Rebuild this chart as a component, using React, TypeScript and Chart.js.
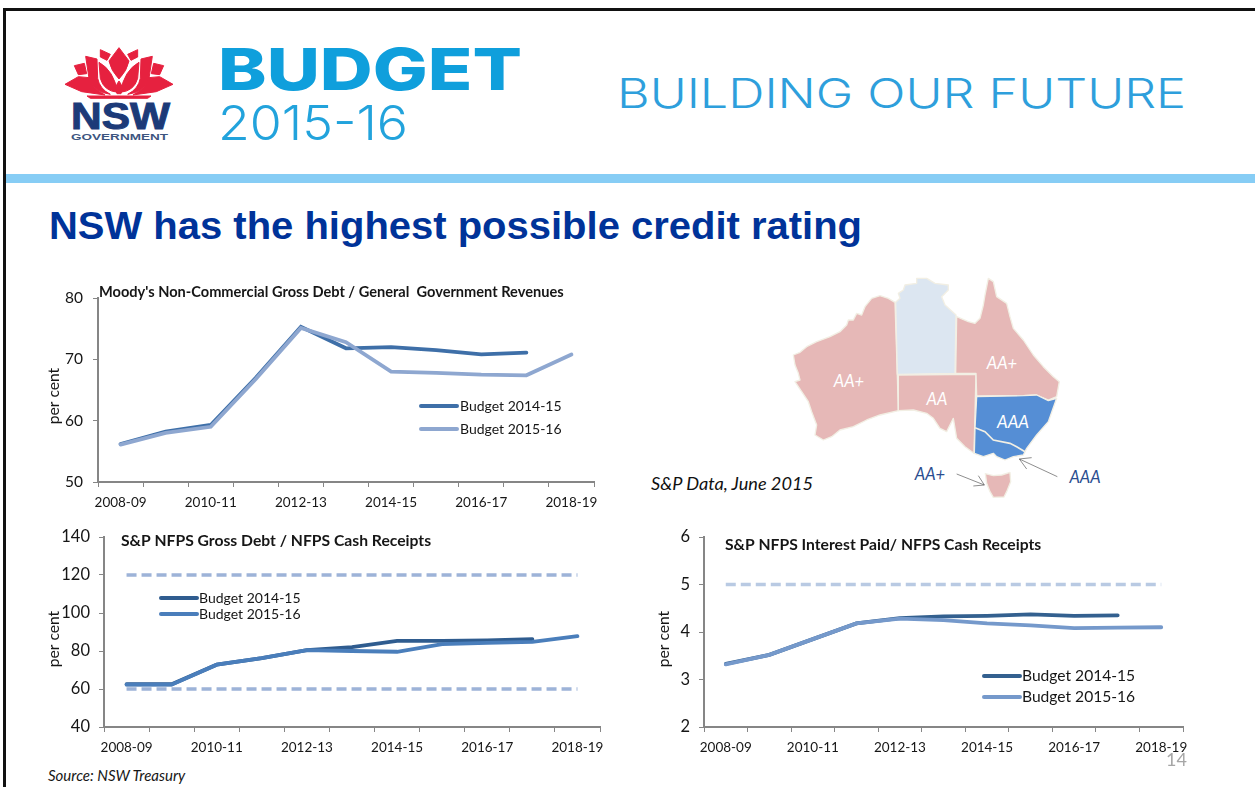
import React, { useEffect, useRef } from "react";
import { Chart, registerables } from "chart.js";

Chart.register(...registerables);

const categories = ["2008-09","2009-10","2010-11","2011-12","2012-13","2013-14","2014-15","2015-16","2016-17","2017-18","2018-19"];

const moodyOld = [56.2,58.2,59.3,67,75.3,71.8,72,71.5,70.8,71.1,null];
const moodyNew = [56.1,58,59,66.8,75.1,72.8,68,67.8,67.5,67.4,70.8];

const debtOld = [62.5,62.5,72.8,76.2,80.5,82,85.3,85.3,85.6,86.2,null];
const debtNew = [62.3,62.3,72.8,76.2,80.5,80,79.6,83.6,84.3,84.8,87.8];
const debtUpper = [120,120,120,120,120,120,120,120,120,120,120];
const debtLower = [60,60,60,60,60,60,60,60,60,60,60];

const interestOld = [3.33,3.52,3.85,4.18,4.29,4.33,4.34,4.37,4.34,4.35,null];
const interestNew = [3.32,3.52,3.85,4.18,4.28,4.25,4.18,4.14,4.08,4.09,4.10];
const interestLimit = [5,5,5,5,5,5,5,5,5,5,5];

const FONT = "Lato, 'Open Sans', sans-serif";
const AXIS = "#868686";
const INK = "#161616";

type Box = { left: number; top: number; width: number; height: number };
type Spec = {
  box: Box;
  axis: { left: number; right: number; top: number; bottom: number };
  yRange: [number, number, number];
  yFont: number;
  yPad: number;
  series: { label: string; data: (number | null)[]; color: string; legend: boolean; dash?: number[]; width: number }[];
  title: { text: string; x: number; y: number; size: number };
  perCent: { x: number; y: number };
  legend: { x0: number; x1: number; tx: number; ys: number[]; size: number };
};

const specs: Spec[] = [
  {
    box: { left: 40, top: 283, width: 565, height: 235 },
    axis: { left: 98, right: 594, top: 298, bottom: 482 },
    yRange: [50, 80, 10],
    yFont: 15.5,
    yPad: 10,
    series: [
      { label: "Budget 2015-16", data: moodyNew, color: "#8ea7d0", legend: true, width: 3.8 },
      { label: "Budget 2014-15", data: moodyOld, color: "#3e6fa8", legend: true, width: 3.8 },
    ],
    title: { text: "Moody's Non-Commercial Gross Debt / General  Government Revenues", x: 99, y: 292, size: 14.6 },
    perCent: { x: 54, y: 396 },
    legend: { x0: 421, x1: 457, tx: 460, ys: [406, 429], size: 14 },
  },
  {
    box: { left: 40, top: 522, width: 565, height: 233 },
    axis: { left: 104, right: 600, top: 537, bottom: 727 },
    yRange: [40, 140, 20],
    yFont: 16.5,
    yPad: 9,
    series: [
      { label: "Upper", data: debtUpper, color: "#9db3d8", legend: false, dash: [10, 5], width: 3.4 },
      { label: "Lower", data: debtLower, color: "#9db3d8", legend: false, dash: [10, 5], width: 3.4 },
      { label: "Budget 2015-16", data: debtNew, color: "#4a7ebb", legend: true, width: 3.8 },
      { label: "Budget 2014-15", data: debtOld, color: "#2f5c8f", legend: true, width: 3.8 },
    ],
    title: { text: "S&P NFPS Gross Debt / NFPS Cash Receipts", x: 121, y: 541, size: 15.7 },
    perCent: { x: 54, y: 639 },
    legend: { x0: 161, x1: 197, tx: 199, ys: [598, 614], size: 14 },
  },
  {
    box: { left: 650, top: 522, width: 560, height: 233 },
    axis: { left: 704, right: 1183, top: 537, bottom: 727 },
    yRange: [2, 6, 1],
    yFont: 16.5,
    yPad: 9,
    series: [
      { label: "Limit", data: interestLimit, color: "#b9cae3", legend: false, dash: [10, 5], width: 3.4 },
      { label: "Budget 2015-16", data: interestNew, color: "#7599cb", legend: true, width: 3.8 },
      { label: "Budget 2014-15", data: interestOld, color: "#33608f", legend: true, width: 3.8 },
    ],
    title: { text: "S&P NFPS Interest Paid/ NFPS Cash Receipts", x: 725, y: 545, size: 15.7 },
    perCent: { x: 664, y: 639 },
    legend: { x0: 984, x1: 1020, tx: 1022, ys: [676, 697], size: 15.6 },
  },
];

function LineChart({ spec }: { spec: Spec }) {
  const ref = useRef<HTMLCanvasElement>(null);
  useEffect(() => {
    const { box, axis } = spec;
    const annotate = {
      id: "annotate",
      afterDraw(chart: any) {
        const c = chart.ctx;
        c.save();
        c.textBaseline = "middle";
        c.fillStyle = INK;
        c.font = `bold ${spec.title.size}px ${FONT}`;
        c.fillText(spec.title.text, spec.title.x - box.left, spec.title.y - box.top);
        c.save();
        c.translate(spec.perCent.x - box.left, spec.perCent.y - box.top);
        c.rotate(-Math.PI / 2);
        c.textAlign = "center";
        c.font = `15.6px ${FONT}`;
        c.fillText("per cent", 0, 0);
        c.restore();
        const entries = chart.data.datasets
          .filter((d: any) => d.showInLegend)
          .sort((a: any, b: any) => a.label.localeCompare(b.label));
        entries.forEach((d: any, i: number) => {
          const y = spec.legend.ys[i] - box.top;
          c.strokeStyle = d.borderColor;
          c.lineWidth = 4;
          c.lineCap = "round";
          c.beginPath();
          c.moveTo(spec.legend.x0 - box.left, y);
          c.lineTo(spec.legend.x1 - box.left, y);
          c.stroke();
          c.fillStyle = INK;
          c.font = `${spec.legend.size}px ${FONT}`;
          c.fillText(d.label, spec.legend.tx - box.left, y);
        });
        c.restore();
      },
    };
    const chart = new Chart(ref.current!, {
      type: "line",
      data: {
        labels: categories,
        datasets: spec.series.map((s) => ({
          label: s.label,
          data: s.data,
          borderColor: s.color,
          backgroundColor: s.color,
          borderWidth: s.width,
          borderDash: s.dash ?? [],
          borderCapStyle: s.dash ? "butt" : "round",
          pointRadius: 0,
          tension: 0,
          spanGaps: false,
          showInLegend: s.legend,
          order: s.legend ? (s.label.includes("2015-16") ? 1 : 2) : 3,
        })) as any,
      },
      options: {
        responsive: false,
        animation: false,
        events: [],
        layout: {
          padding: {
            top: axis.top - box.top,
            right: box.left + box.width - axis.right,
            left: 0,
            bottom: 0,
          },
        },
        plugins: { legend: { display: false }, title: { display: false }, tooltip: { enabled: false } },
        scales: {
          x: {
            type: "category",
            offset: true,
            afterFit: (s: any) => {
              s.height = box.top + box.height - axis.bottom;
              s.paddingLeft = 0;
              s.paddingRight = 0;
            },
            grid: { offset: true, drawOnChartArea: false, drawTicks: true, tickLength: 5, color: AXIS, lineWidth: 1 },
            border: { color: AXIS, width: 2 },
            ticks: {
              autoSkip: false,
              maxRotation: 0,
              minRotation: 0,
              padding: 8,
              color: INK,
              font: { family: FONT, size: 13.5 },
              callback: (_v: any, i: number) => (i % 2 === 0 ? categories[i] : ""),
            },
          },
          y: {
            min: spec.yRange[0],
            max: spec.yRange[1],
            afterFit: (s: any) => {
              s.width = axis.left - box.left;
              s.paddingTop = 0;
              s.paddingBottom = 0;
            },
            grid: { drawOnChartArea: false, drawTicks: true, tickLength: 5, color: AXIS, lineWidth: 1 },
            border: { color: AXIS, width: 2 },
            ticks: {
              stepSize: spec.yRange[2],
              padding: spec.yPad,
              color: INK,
              font: { family: FONT, size: spec.yFont },
            },
          },
        },
      } as any,
      plugins: [annotate],
    });
    return () => chart.destroy();
  }, [spec]);
  return (
    <canvas
      ref={ref}
      width={spec.box.width}
      height={spec.box.height}
      style={{ position: "absolute", left: spec.box.left, top: spec.box.top, width: spec.box.width, height: spec.box.height }}
    />
  );
}

const petals = [
  "M192 38 L222 78 Q 216 108 192 132 Q 168 108 162 78 Z",
  "M136 44 L166 58 L156 76 L136 66 Z",
  "M132 82 Q 176 106 188 172 Q 146 168 136 130 Z",
  "M92 64 L126 72 L128 130 Q 134 162 166 178 Q 116 172 102 130 Z",
  "M58 92 L88 85 L95 116 L70 119 Z",
  "M30 148 L70 125 L103 128 Q 112 160 150 180 L 80 170 Z",
  "M96 183 L192 183 L192 190 L106 190 Z",
];

function Logo() {
  return (
    <g>
      <g transform="translate(55,35) scale(0.3333)" fill="#e6213f" stroke="#e6213f" strokeWidth={3} strokeLinejoin="round">
        {petals.map((d, i) => <path key={i} d={d} />)}
        <path d="M192 138 Q 208 158 198 176 L186 176 Q 176 158 192 138 Z" />
        <g transform="translate(384,0) scale(-1,1)">
          {petals.slice(1).map((d, i) => <path key={i} d={d} />)}
        </g>
      </g>
      <text x={71} y={129} fontFamily="'Liberation Sans'" fontWeight={700} fontSize={37} fill="#1c3a78" stroke="#1c3a78" strokeWidth={1} textLength={99} lengthAdjust="spacingAndGlyphs">NSW</text>
      <text x={71} y={140} fontFamily="'Liberation Sans'" fontWeight={700} fontSize={9.5} fill="#3d5580" textLength={97} lengthAdjust="spacingAndGlyphs">GOVERNMENT</text>
    </g>
  );
}

const MAP = [
  { c: "#e6b8b7", d: "765,112 745,100 720,92 695,100 675,125 665,150 650,145 640,165 625,165 620,180 600,200 570,215 530,230 500,245 480,262 460,270 465,300 475,325 480,345 465,350 485,380 505,410 515,440 530,480 525,510 550,525 575,515 600,495 640,485 680,465 720,450 775,437 772,330" },
  { c: "#dce6f1", d: "767,112 780,100 775,85 790,75 795,60 830,55 830,40 860,40 885,55 925,60 925,75 905,95 915,120 948,150 945,325 772,328" },
  { c: "#e6b8b7", d: "775,330 1008,328 1002,565 975,545 950,520 945,490 940,460 920,500 900,490 880,460 860,445 820,435 775,437" },
  { c: "#e6b8b7", d: "950,155 985,170 1005,175 1020,160 1030,120 1035,90 1045,40 1060,50 1070,95 1100,115 1110,155 1120,190 1150,225 1180,270 1210,305 1240,335 1258,350 1250,395 1225,405 1190,390 1150,392 1010,393 1008,325 947,325" },
  { c: "#558ed5", d: "1010,395 1150,392 1190,390 1225,407 1250,400 1225,470 1190,510 1160,550 1150,570 1120,575 1095,585 1070,575 1060,565 1030,575 1003,565 1005,490" },
  { c: "#e6b8b7", d: "1036,626 1060,632 1085,630 1110,622 1112,650 1100,680 1092,696 1060,697 1050,680 1040,655" },
];

function AusMap() {
  const label = (t: string, x: number, y: number, fill: string, size: number) => (
    <text x={x} y={y} fill={fill} fontFamily={FONT} fontStyle="italic" fontSize={size} textAnchor="middle">{t}</text>
  );
  return (
    <g>
      <g transform="translate(640,265) scale(0.33333)">
        {MAP.map((m, i) => <polygon key={i} points={m.d} fill={m.c} stroke="#f2efe4" strokeWidth={4} strokeLinejoin="round" />)}
        <polyline points="1005,488 1035,500 1060,525 1110,535 1130,545 1155,560" fill="none" stroke="#f2efe4" strokeWidth={5} />
        <g fill="none" stroke="#555" strokeWidth={2}>
          <path d="M950 627 L1033 660 M1015 632 L1033 660 L1000 663" />
          <path d="M1252 635 L1138 582 M1175 578 L1138 582 L1160 612" />
        </g>
      </g>
      {label("AA+", 849, 387, "#fff", 16.5)}
      {label("AA", 937, 405, "#fff", 16.5)}
      {label("AA+", 1002, 369, "#fff", 16.5)}
      {label("AAA", 1013, 428, "#fff", 17)}
      {label("AA+", 930, 480, "#2a4d8f", 16.5)}
      {label("AAA", 1085, 483, "#2a4d8f", 16.5)}
      <text x={651} y={490} fontFamily={FONT} fontStyle="italic" fontSize={18} fill="#111" textLength={162} lengthAdjust="spacingAndGlyphs">S&amp;P Data, June 2015</text>
    </g>
  );
}

export default function App() {
  return (
    <div style={{ position: "absolute", left: 0, top: 0, width: 1255, height: 787, overflow: "hidden", background: "#fff" }}>
      <svg width={1255} height={787} style={{ position: "absolute", left: 0, top: 0 }}>
        <rect x={3} y={8} width={1252} height={3} fill="#111" />
        <rect x={3} y={8} width={3} height={779} fill="#111" />
        <rect x={6} y={174} width={1249} height={9} fill="#87cdf5" />
        <Logo />
        <text x={218} y={90} fontFamily="Inter, Lato" fontWeight={800} fontSize={58} fill="#0f9fdc" textLength={304} lengthAdjust="spacingAndGlyphs">BUDGET</text>
        <text x={218} y={140} fontFamily="Inter, Lato" fontWeight={300} fontSize={48} fill="#22a3dc" textLength={190} lengthAdjust="spacingAndGlyphs">2015-16</text>
        <text x={617} y={108} fontFamily="Inter, Lato" fontWeight={300} fontSize={41} fill="#2e9fdc" textLength={569} lengthAdjust="spacingAndGlyphs">BUILDING OUR FUTURE</text>
        <text x={49} y={239} fontFamily="'Liberation Sans', Arial" fontWeight={700} fontSize={39} fill="#003399" textLength={813} lengthAdjust="spacingAndGlyphs">NSW has the highest possible credit rating</text>
        <AusMap />
        <text x={48} y={781} fontFamily={FONT} fontStyle="italic" fontSize={15} fill={INK}>Source: NSW Treasury</text>
      </svg>
      {specs.map((s, i) => <LineChart key={i} spec={s} />)}
      <svg width={1255} height={787} style={{ position: "absolute", left: 0, top: 0, pointerEvents: "none" }}>
        <text x={1166} y={766} fontFamily={FONT} fontSize={18} fill="#a6a6a6">14</text>
      </svg>
    </div>
  );
}
